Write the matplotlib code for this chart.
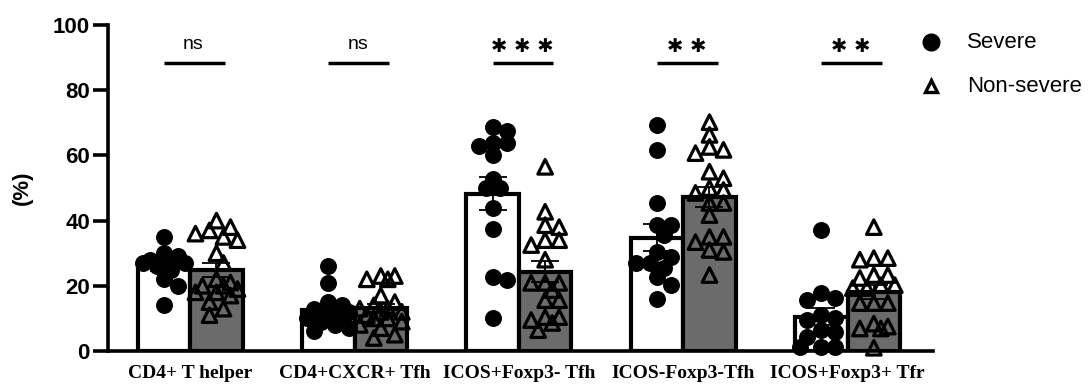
import numpy as np
import matplotlib
matplotlib.use("Agg")
import matplotlib.pyplot as plt
from matplotlib.lines import Line2D

# ---- data ---------------------------------------------------------------
categories = ["CD4+ T helper", "CD4+CXCR+ Tfh", "ICOS+Foxp3- Tfh",
              "ICOS-Foxp3-Tfh", "ICOS+Foxp3+ Tfr"]

severe = [
    [35, 30, 28, 28, 27, 27, 26, 27, 29, 25, 22, 20, 14],
    [26, 21, 15, 14, 13, 13, 12, 11, 10, 10, 9, 8, 7, 6],
    [67.5, 68.7, 63.8, 62.9, 63.8, 60, 52.8, 50, 50, 43.9, 37.4, 22.7, 21.8, 10.1],
    [69.3, 61.7, 45.4, 38.7, 38.7, 35.6, 28.8, 30.4, 27, 27, 25.5, 22.7, 20.2, 16],
    [37.1, 17.8, 15.6, 16.3, 10, 11, 9.5, 5.8, 6.4, 4.3, 1.2, 1.2, 1.2],
]

non_severe = [
    [40, 38, 37, 36, 35, 34, 30, 27, 22, 21, 20, 20, 19, 18, 18, 17, 15, 13, 11],
    [23, 23, 22, 22, 17, 15, 14, 13, 13, 12, 12, 11, 10, 10, 9, 8, 7, 5, 4],
    [56.5, 42.7, 38, 38.6, 34, 34, 32.5, 28, 20.9, 20.9, 20.9, 18.7, 15.6, 15.6,
     10.4, 9.5, 10.4, 8.6, 6.4],
    [70.2, 66.3, 60.7, 61.7, 62.6, 55, 53, 50, 48.5, 49.4, 45.4, 45.4, 41.7,
     33.4, 35, 35, 30.4, 31, 23.3],
    [38, 28.5, 28.5, 28, 23.3, 23.3, 22.4, 20.2, 20.2, 19.3, 19.3, 14.7, 14.7,
     14.7, 8.4, 6.9, 7.5, 6.9, 1],
]

significance = ["ns", "ns", "✱✱✱", "✱✱", "✱✱"]
yticks = [0, 20, 40, 60, 80, 100]

# ---- layout -------------------------------------------------------------
W, H = 1089, 390
fig = plt.figure(figsize=(W / 100, H / 100), dpi=100)
ax_l, ax_r, ax_b, ax_t = 108, 933, 351, 25
ax = fig.add_axes([ax_l / W, 1 - ax_b / H, (ax_r - ax_l) / W, (ax_b - ax_t) / H])

xmin, xmax = -0.5, 4.52
ax.set_xlim(xmin, xmax)
ax.set_ylim(0, 100)
px_x = (ax_r - ax_l) / (xmax - xmin)   # pixels per x unit
px_y = (ax_b - ax_t) / 100.0           # pixels per y unit

bar_w = 0.32
gray = "#6b6b6b"
x = np.arange(len(categories))


def swarm(values, half_px, diam_px):
    """Beeswarm offsets (in x units) so markers sit side by side."""
    vals = np.asarray(values, float)
    order = np.argsort(-vals)
    placed = []
    offs = np.zeros(len(vals))
    step = diam_px * 0.5
    n = int(half_px // step)
    cands = [0.0]
    for k in range(1, n + 1):
        cands += [k * step, -k * step]
    for i in order:
        yp = vals[i] * px_y
        best, best_d = 0.0, -1
        for c in cands:
            if not placed:
                best = c
                break
            d = min(np.hypot(c - px, yp - py) for px, py in placed)
            if d >= diam_px * 0.8:
                best = c
                break
            if d > best_d:
                best, best_d = c, d
        placed.append((best, yp))
        offs[i] = best / px_x
    return offs


for i, (s, ns_) in enumerate(zip(severe, non_severe)):
    for vals, xc, face, mk in [(s, x[i] - bar_w / 2, "white", "o"),
                               (ns_, x[i] + bar_w / 2, gray, "^")]:
        m = np.mean(vals)
        sem = np.std(vals, ddof=1) / np.sqrt(len(vals))
        ax.bar(xc, m, width=bar_w, color=face, edgecolor="black",
               linewidth=3, zorder=2)
        offs = swarm(vals, bar_w * px_x / 2 - 5, 14)
        if mk == "o":
            ax.scatter(xc + offs, vals, s=125, marker="o", color="black",
                       zorder=3, clip_on=False)
        else:
            ax.scatter(xc + offs, vals, s=110, marker="^", facecolors="none",
                       edgecolors="black", linewidths=2.3, zorder=3,
                       clip_on=False)
        ax.errorbar(xc, m, yerr=sem, color="black", elinewidth=1.3,
                    capsize=10, capthick=1.3, zorder=4)

    # significance bracket
    ax.plot([x[i] - bar_w / 2, x[i] + bar_w / 2 + 0.05], [88.3, 88.3],
            color="black", lw=2.5, solid_capstyle="butt", clip_on=False)
    label = significance[i]
    if label == "ns":
        ax.text(x[i] + 0.02, 91.5, label, ha="center", va="bottom",
                fontsize=14, family="Liberation Sans")
    else:
        ax.text(x[i] + 0.02, 90.5, " ".join(label), ha="center", va="bottom",
                fontsize=14, family="DejaVu Sans", fontweight="bold")

# ---- axes styling -------------------------------------------------------
for side in ["top", "right"]:
    ax.spines[side].set_visible(False)
for side in ["left", "bottom"]:
    ax.spines[side].set_linewidth(2.6)
ax.set_yticks(yticks)
ax.set_yticklabels([str(v) for v in yticks], fontsize=16, fontweight="bold",
                   family="Liberation Sans")
ax.tick_params(axis="y", length=11, width=2.6, pad=2)
ax.set_xticks(x)
ax.set_xticklabels(categories, fontsize=14, fontweight="bold",
                   family="Liberation Serif")
ax.tick_params(axis="x", length=0, pad=10)
ax.set_ylabel("(%)", fontsize=16, fontweight="bold", family="Liberation Sans",
              labelpad=14)

# ---- legend -------------------------------------------------------------
for ypix, mk, lbl in [(42, "o", "Severe"), (86, "^", "Non-severe")]:
    fx, fy = 931 / W, 1 - ypix / H
    if mk == "o":
        fig.add_artist(Line2D([fx], [fy], marker="o", markersize=12,
                              color="black", linestyle="none",
                              transform=fig.transFigure))
    else:
        fig.add_artist(Line2D([fx], [fy], marker="^", markersize=9,
                              markerfacecolor="none", markeredgecolor="black",
                              markeredgewidth=2.4, linestyle="none",
                              transform=fig.transFigure))
    fig.text(967 / W, fy, lbl, fontsize=16, family="Liberation Sans",
             va="center", ha="left")

fig.savefig("out.png", dpi=100)
